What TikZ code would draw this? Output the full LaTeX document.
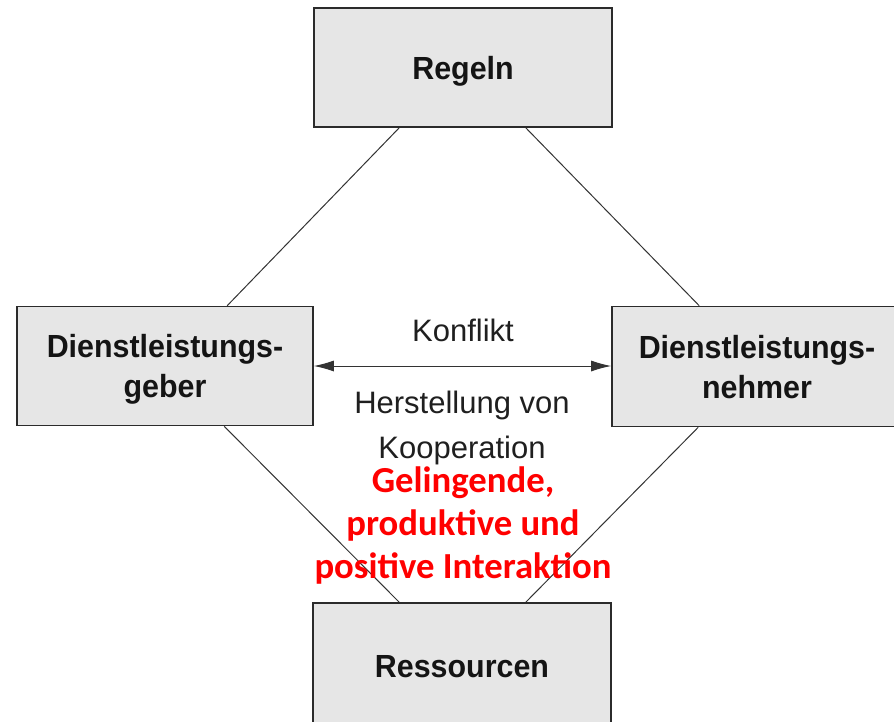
\documentclass[tikz,border=0pt]{standalone}
\usepackage{fontspec}
\setmainfont{Liberation Sans}
\newfontfamily\boxfont[FakeStretch=0.95]{Liberation Sans}
\newfontfamily\redfont{Carlito}
\usetikzlibrary{arrows.meta}
\definecolor{boxfill}{HTML}{E6E6E6}
\definecolor{boxline}{HTML}{2B2B2B}
\definecolor{linkline}{HTML}{333333}
\definecolor{redtext}{HTML}{FF0000}
\tikzset{
  actor/.style={draw=boxline, line width=1.6pt, fill=boxfill, inner sep=0pt,
    align=center, text depth=0pt, text=black!92,
    font=\boxfont\bfseries\fontsize{32}{40}\selectfont},
  link/.style={draw=linkline, line width=1pt},
  plainlabel/.style={align=center, text=black!88, inner sep=0pt,
    font=\fontsize{31}{45}\selectfont},
  redlabel/.style={align=center, text=redtext, inner sep=0pt,
    font=\redfont\bfseries\fontsize{36.7}{43}\selectfont}
}
\begin{document}
\begin{tikzpicture}[x=1pt,y=-1pt]
\useasboundingbox (0,0) rectangle (894,721);
\clip (0,0) rectangle (894,721);
\node[actor, minimum width=298pt, minimum height=119pt] (regeln) at (463,67.5) {Regeln};
\node[actor, minimum width=296pt, minimum height=119pt] (geber) at (165,366) {Dienstleistungs-\\geber};
\node[actor, minimum width=290pt, minimum height=120pt] (nehmer) at (757,366.5) {Dienstleistungs-\\nehmer};
\node[actor, minimum width=298pt, minimum height=126pt] (ress) at (462,666) {Ressourcen};

\draw[link] ([xshift=86pt]regeln.south west) -- ([xshift=211pt]geber.north west);
\draw[link] ([xshift=-87pt]regeln.south east) -- ([xshift=88pt]nehmer.north west);
\draw[link] ([xshift=208pt]geber.south west) -- ([xshift=87pt]ress.north west);
\draw[link] ([xshift=87pt]nehmer.south west) -- ([xshift=-86pt]ress.north east);

\draw[link, {Latex[length=20pt,width=11pt]}-{Latex[length=20pt,width=11pt]}] (geber.east) -- (geber.east -| nehmer.west);

\node[plainlabel] (konflikt) at (463,330) {Konflikt};
\node[plainlabel] (koop) at (462,427.5) {Herstellung von\\Kooperation};
\node[redlabel] (gelingen) at (463,525) {Gelingende,\\produktive und\\positive Interaktion};
\end{tikzpicture}
\end{document}
